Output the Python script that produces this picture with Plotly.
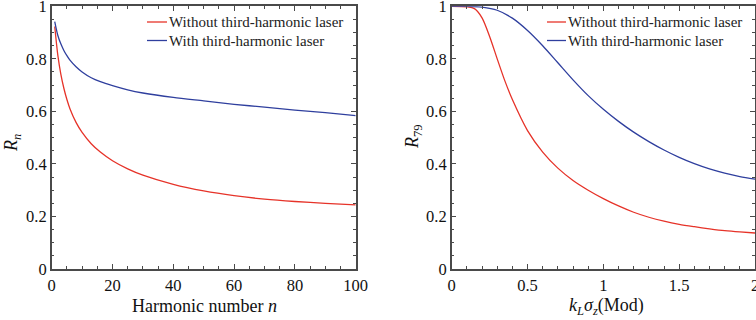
import plotly.graph_objects as go

# ---- data ----
n_vals = [1, 2, 3, 4, 5, 6, 8, 10, 13, 16, 20, 25, 30, 40, 50, 60, 70, 80, 90, 100]
rn_without = [0.923, 0.815, 0.742, 0.688, 0.645, 0.61, 0.558, 0.52, 0.477, 0.445,
              0.412, 0.381, 0.357, 0.322, 0.297, 0.279, 0.266, 0.257, 0.25, 0.244]
rn_with = [0.942, 0.89, 0.857, 0.832, 0.812, 0.795, 0.77, 0.75, 0.728, 0.713,
           0.698, 0.682, 0.67, 0.653, 0.64, 0.627, 0.616, 0.605, 0.595, 0.584]

k_without = [0, 0.1, 0.15, 0.2, 0.25, 0.3, 0.35, 0.4, 0.5, 0.6, 0.7, 0.8, 0.9,
             1.0, 1.1, 1.2, 1.3, 1.4, 1.5, 1.6, 1.7, 1.8, 1.9, 2.0]
r79_without = [1.0, 0.998, 0.991, 0.956, 0.885, 0.8, 0.717, 0.645, 0.527, 0.445,
               0.384, 0.337, 0.3, 0.268, 0.24, 0.216, 0.197, 0.182, 0.17, 0.161,
               0.153, 0.146, 0.141, 0.137]
k_with = [0, 0.1, 0.2, 0.3, 0.4, 0.5, 0.6, 0.7, 0.8, 0.9, 1.0, 1.1, 1.2, 1.3,
          1.4, 1.5, 1.6, 1.7, 1.8, 1.9, 2.0]
r79_with = [1.0, 1.0, 0.997, 0.985, 0.955, 0.908, 0.85, 0.785, 0.72, 0.66, 0.608,
            0.562, 0.521, 0.485, 0.453, 0.425, 0.401, 0.381, 0.365, 0.352, 0.342]

names = ["Without third-harmonic laser", "With third-harmonic laser"]
RED = "#e63329"
BLUE = "#2f3f9e"
FONT = "Liberation Serif"
FRAME = "#4a4a4a"

W, H = 756, 320
def px_x(p):
    return p / W
def px_y(p):
    return 1 - p / H

fig = go.Figure()
line_kw = dict(width=1.3, shape="spline", smoothing=0.8)
fig.add_trace(go.Scatter(x=n_vals, y=rn_without, mode="lines", name=names[0],
                         line=dict(color=RED, **line_kw), xaxis="x", yaxis="y"))
fig.add_trace(go.Scatter(x=n_vals, y=rn_with, mode="lines", name=names[1],
                         line=dict(color=BLUE, **line_kw), xaxis="x", yaxis="y"))
fig.add_trace(go.Scatter(x=k_without, y=r79_without, mode="lines", name=names[0],
                         line=dict(color=RED, **line_kw), xaxis="x2", yaxis="y2"))
fig.add_trace(go.Scatter(x=k_with, y=r79_with, mode="lines", name=names[1],
                         line=dict(color=BLUE, **line_kw), xaxis="x2", yaxis="y2"))

common = dict(showline=True, linecolor=FRAME, linewidth=1.5, mirror="allticks",
              ticks="inside", ticklen=5, tickwidth=1, tickcolor=FRAME,
              showgrid=False, zeroline=False, ticklabeloverflow="allow",
              tickfont=dict(family=FONT, size=16.5, color="#111"), automargin=False)

ydom = [px_y(269), px_y(6.3)]
fig.update_layout(
    width=W, height=H, margin=dict(l=0, r=0, t=0, b=0),
    paper_bgcolor="white", plot_bgcolor="white", showlegend=False,
    xaxis=dict(domain=[px_x(51.7), px_x(355.7)], range=[0, 100], dtick=20,
               minor=dict(ticks="inside", ticklen=3, dtick=5, tickcolor=FRAME),
               anchor="y", **common),
    yaxis=dict(domain=ydom, range=[0, 1], dtick=0.2,
               minor=dict(ticks="inside", ticklen=3, dtick=0.05, tickcolor=FRAME),
               anchor="x", **common),
    xaxis2=dict(domain=[px_x(451.7), px_x(755)], range=[0, 2], dtick=0.5,
                minor=dict(ticks="inside", ticklen=3, dtick=0.1, tickcolor=FRAME),
                anchor="y2", **common),
    yaxis2=dict(domain=ydom, range=[0, 1], dtick=0.2,
                minor=dict(ticks="inside", ticklen=3, dtick=0.05, tickcolor=FRAME),
                anchor="x2", **common),
)

# ---- legends (drawn as line samples + text) ----
legfont = dict(family=FONT, size=15, color="#222")
for (x0, x1, xt) in [(147, 167, 167), (547, 566, 566)]:
    for name, col, yy in [(names[0], RED, 22), (names[1], BLUE, 40.5)]:
        fig.add_shape(type="line", xref="paper", yref="paper",
                      x0=px_x(x0), x1=px_x(x1), y0=px_y(yy), y1=px_y(yy),
                      line=dict(color=col, width=1.3))
        fig.add_annotation(text=name, xref="paper", yref="paper",
                           x=px_x(xt), y=px_y(yy), showarrow=False, font=legfont,
                           xanchor="left", yanchor="middle")

tfont = dict(family=FONT, size=18, color="#111")
fig.add_annotation(text="Harmonic number <i>n</i>", xref="paper", yref="paper",
                   x=px_x(204), y=px_y(306), showarrow=False, font=tfont,
                   xanchor="center", yanchor="middle")
fig.add_annotation(text="<i>k</i><sub><i>L</i></sub><i>σ</i><sub><i>z</i></sub>(Mod)",
                   xref="paper", yref="paper", x=px_x(606), y=px_y(306),
                   showarrow=False, font=tfont, xanchor="center", yanchor="middle")
fig.add_annotation(text="<i>R</i><sub><i>n</i></sub>", xref="paper", yref="paper",
                   x=px_x(12), y=px_y(143), showarrow=False, font=tfont, textangle=-90,
                   xanchor="center", yanchor="middle")
fig.add_annotation(text="<i>R</i><sub>79</sub>", xref="paper", yref="paper",
                   x=px_x(413), y=px_y(137), showarrow=False, font=tfont, textangle=-90,
                   xanchor="center", yanchor="middle")

fig.write_html("out.html")
